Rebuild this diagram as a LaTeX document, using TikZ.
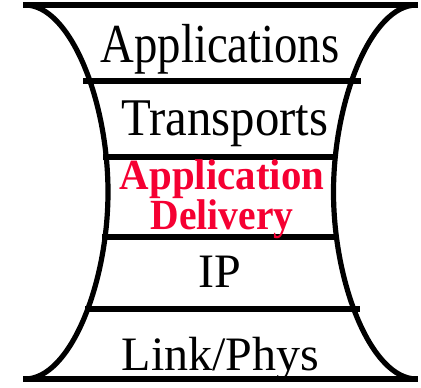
\documentclass[tikz,border=0pt]{standalone}
\usepackage{fontspec}
\setmainfont{Liberation Serif}
\usepackage{graphicx}
\definecolor{delivred}{RGB}{245,0,50}
\begin{document}
\begin{tikzpicture}[x=1pt,y=-1pt,
  rim/.style={line width=5.2pt},
  layer/.style={inner sep=0pt, anchor=base},
  hilite/.style={inner sep=0pt, align=center, text=delivred,
                 font=\fontsize{43}{32}\selectfont\bfseries}]
\useasboundingbox (0,0) rectangle (421,388);

% hourglass sides
\draw[rim] (25,5) .. controls (70,5) and (108,100) .. (108,192)
           .. controls (108,284) and (70,379) .. (25,379);
\draw[rim] (416.5,5) .. controls (371.5,5) and (333.5,100) .. (333.5,192)
           .. controls (333.5,284) and (371.5,379) .. (416.5,379);

% layer boundaries
\draw[rim] (23,5) -- (418,5);
\draw[rim] (83,81) -- (361,81);
\draw[rim] (103,157) -- (336,157);
\draw[rim] (102,237) -- (336,237);
\draw[rim] (85,309) -- (360,309);
\draw[rim] (23,379) -- (418,379);

% layer names
\node[layer, font=\fontsize{55}{55}\selectfont] (apps) at (220,62) {\scalebox{0.85}[1]{Applications}};
\node[layer, font=\fontsize{53}{53}\selectfont] (trans) at (225,135) {\scalebox{0.92}[1]{Transports}};
\node[hilite] (appdel) at (222,199) {\scalebox{0.95}[1]{Application}\\\scalebox{0.92}[1]{Delivery}};
\node[layer, font=\fontsize{48}{48}\selectfont] (ip) at (220,287) {IP};
\node[layer, font=\fontsize{48}{48}\selectfont] (link) at (220.5,370) {Link/Phys};
\end{tikzpicture}
\end{document}
